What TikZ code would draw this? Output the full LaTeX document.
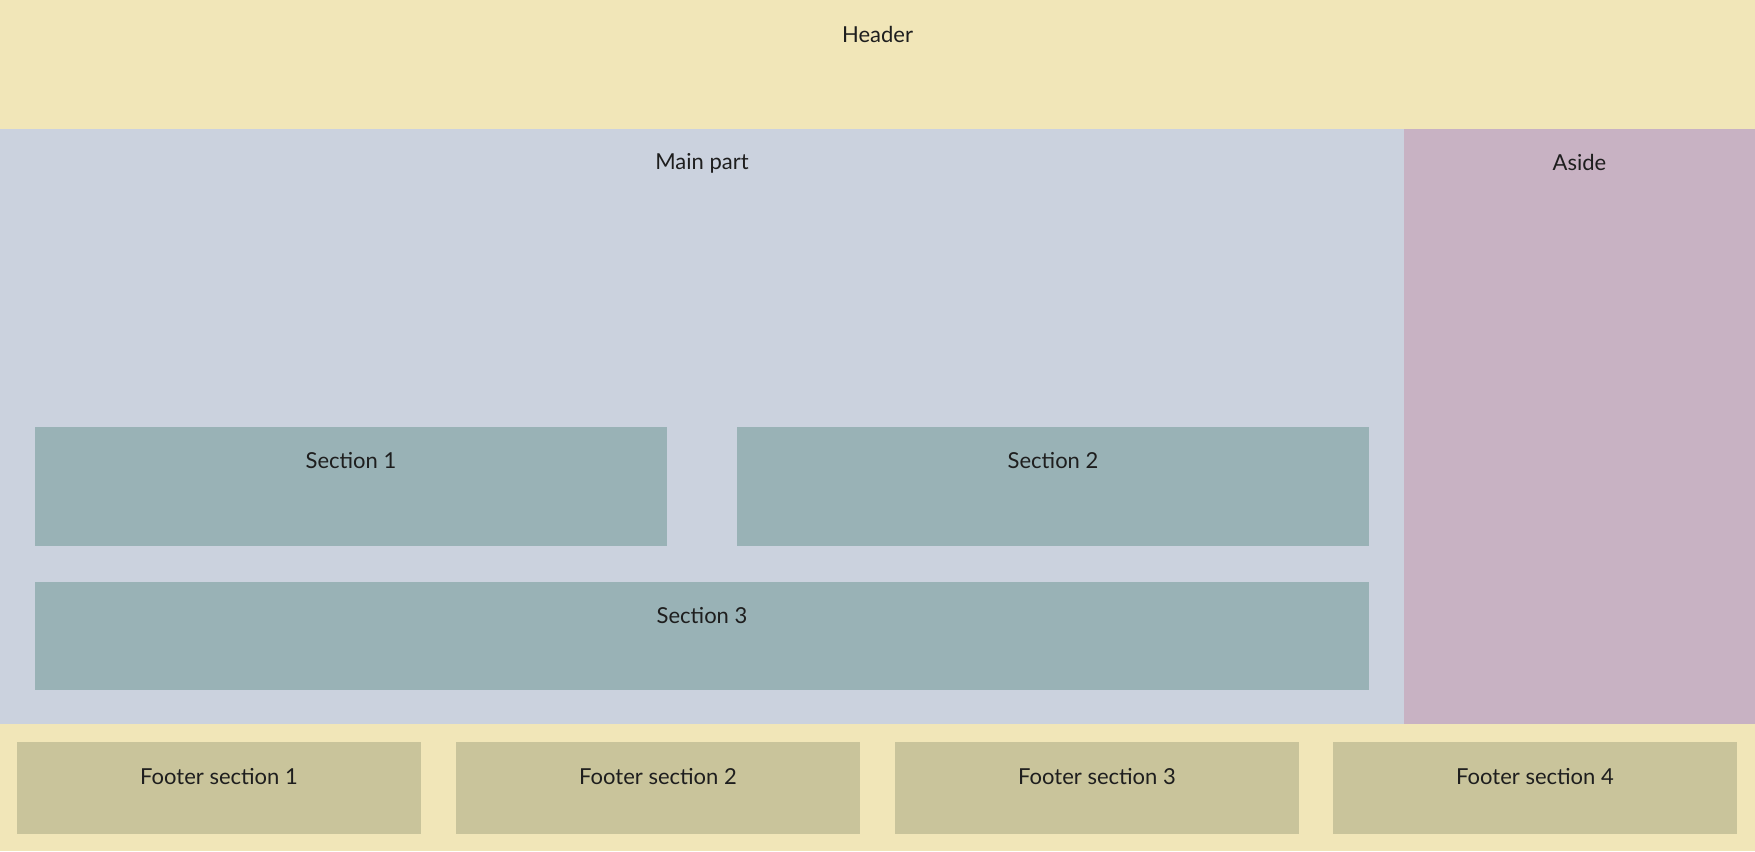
\documentclass[tikz,border=0pt]{standalone}
\usepackage{fontspec}
\setmainfont{Lato}
\usepackage{tikz}

\definecolor{hdrcol}{HTML}{F1E6B8}
\definecolor{maincol}{HTML}{CBD2DE}
\definecolor{asidecol}{HTML}{C8B2C3}
\definecolor{seccol}{HTML}{99B2B6}
\definecolor{footcol}{HTML}{C9C49B}
\definecolor{txtcol}{HTML}{1E1E1E}

\begin{document}
\begin{tikzpicture}[x=0.75pt,y=0.75pt,yscale=-1,xscale=1,
  lbl/.style={anchor=center,inner sep=0.75pt,text=txtcol,font=\fontsize{16.5}{20}\selectfont}]
\useasboundingbox (0,0) rectangle (1755,851);

%Shape: Rectangle [header]
\fill [hdrcol] (0,0) rectangle (1755,129) ;
%Shape: Rectangle [main part]
\fill [maincol] (0,129) rectangle (1404,724) ;
%Shape: Rectangle [aside]
\fill [asidecol] (1404,129) rectangle (1755,724) ;
%Shape: Rectangle [footer]
\fill [hdrcol] (0,724) rectangle (1755,851) ;

%Shape: Rectangle [section 1]
\fill [seccol] (35,427) rectangle (667,546) ;
%Shape: Rectangle [section 2]
\fill [seccol] (737,427) rectangle (1369,546) ;
%Shape: Rectangle [section 3]
\fill [seccol] (35,582) rectangle (1369,690) ;

%Shape: Rectangle [footer sections]
\fill [footcol] (17,742) rectangle (421,834) ;
\fill [footcol] (456,742) rectangle (860,834) ;
\fill [footcol] (895,742) rectangle (1299,834) ;
\fill [footcol] (1333,742) rectangle (1737,834) ;

% Text Node
\node [lbl] (header) at (877.5,34) {Header};
% Text Node
\node [lbl] (mainpart) at (702,163.5) {Main part};
% Text Node
\node [lbl] (aside) at (1579.5,162) {Aside};
% Text Node
\node [lbl] (sec1) at (351,461) {Section 1};
% Text Node
\node [lbl] (sec2) at (1053,461) {Section 2};
% Text Node
\node [lbl] (sec3) at (702,616) {Section 3};
% Text Node
\node [lbl] (foot1) at (219,777) {Footer section 1};
% Text Node
\node [lbl] (foot2) at (658,777) {Footer section 2};
% Text Node
\node [lbl] (foot3) at (1097,777) {Footer section 3};
% Text Node
\node [lbl] (foot4) at (1535,777) {Footer section 4};

\end{tikzpicture}
\end{document}
